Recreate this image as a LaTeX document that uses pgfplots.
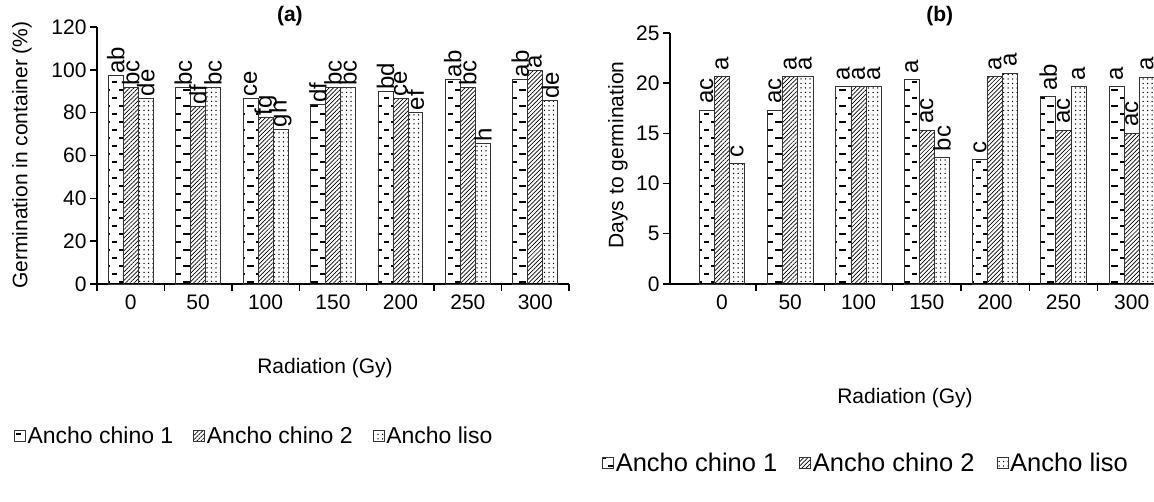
\documentclass[border=0pt]{standalone}
\usepackage{fontspec}
\setmainfont{Liberation Sans}
\usepackage{pgfplots}
\pgfplotsset{compat=1.18}
\usepackage{pgfplotstable}
\usetikzlibrary{patterns,patterns.meta}

\pgfdeclarepatternformonly{hdash}{\pgfqpoint{-1pt}{-1pt}}{\pgfqpoint{17pt}{17pt}}{\pgfqpoint{16pt}{16pt}}{%
  \pgfsetlinewidth{1.3pt}%
  \pgfpathmoveto{\pgfqpoint{0pt}{4pt}}\pgfpathlineto{\pgfqpoint{5pt}{4pt}}%
  \pgfpathmoveto{\pgfqpoint{7pt}{12pt}}\pgfpathlineto{\pgfqpoint{14pt}{12pt}}%
  \pgfusepath{stroke}}

\newcommand\ff{\fontsize{21}{25}\selectfont}
\newcommand\fl{\fontsize{23}{27}\selectfont}
\newcommand\flb{\fontsize{25.5}{29}\selectfont}
\newcommand\fb{\fontsize{24}{28}\selectfont}

% Panel (a): germination in container (%)
\pgfplotstableread{
x y lab
0 97.2 ab
1 91.7 bc
2 86.8 ce
3 83.8 df
4 89.9 bd
5 95.7 ab
6 95.7 ab
}\tAa
\pgfplotstableread{
x y lab
0 91.7 bc
1 82.9 df
2 78.0 fg
3 91.7 bc
4 86.8 ce
5 91.7 bc
6 99.8 a
}\tAb
\pgfplotstableread{
x y lab
0 86.8 de
1 91.7 bc
2 72.3 gh
3 91.7 bc
4 80.3 ef
5 65.5 h
6 85.5 de
}\tAc
% Panel (b): days to germination
\pgfplotstableread{
x y lab
0 17.3 ac
1 17.3 ac
2 19.68 a
3 20.37 a
4 12.4 c
5 18.65 ab
6 19.68 a
}\tBa
\pgfplotstableread{
x y lab
0 20.67 a
1 20.67 a
2 19.68 a
3 15.3 ac
4 20.67 a
5 15.3 ac
6 15.0 ac
}\tBb
\pgfplotstableread{
x y lab
0 12.0 c
1 20.67 a
2 19.68 a
3 12.6 bc
4 21.0 a
5 19.68 a
6 20.6 a
}\tBc

\pgfplotsset{
  myaxis/.style={
    scale only axis,
    ybar=0pt, bar width=0.222,
    xtick={0,...,6},
    xticklabels={0,50,100,150,200,250,300},
    major x tick style={draw=none},
    axis x line*=bottom, axis y line*=left,
    tick align=outside,
    major tick length=7pt, minor tick length=7pt,
    axis line style={line width=1.4pt, black},
    every tick/.append style={line width=1.4pt, black},
    tick label style={font=\ff},
    label style={font=\ff},
    /pgf/number format/assume math mode=true,
    clip=false,
    point meta=explicit symbolic,
    nodes near coords,
    nodes near coords style={rotate=90, anchor=west, font=\fb, inner sep=1.5pt, black},
    every axis plot/.append style={draw=black!80, line width=0.8pt},
    legend columns=3,
    legend style={draw=none, font=\fl, anchor=center, fill=none,
      /tikz/every even column/.append style={column sep=18pt}},
    legend image code/.code={\draw[#1, line width=0.6pt] (0pt,-5.5pt) rectangle (11pt,5.5pt);},
  }
}

\begin{document}
\begin{tikzpicture}[x=1pt,y=1pt]
\useasboundingbox (0,0) rectangle (1154,502);
\clip (0,0) rectangle (1154,502);

\begin{axis}[myaxis,
  at={(97pt,218pt)}, anchor=south west,
  width=472pt, height=257pt,
  xmin=-0.5, xmax=6.5,
  minor xtick={-0.5,0.5,...,6.5},
  ymin=0, ymax=120, ytick={0,20,...,120},
  ylabel={Germination in container (\%)},
  xlabel={Radiation (Gy)},
  xlabel style={at={(axis description cs:0.483,-0.327)}, anchor=center},
  ylabel style={at={(axis description cs:-0.159,0.502)}, anchor=center, rotate=0},
  legend style={at={(axis description cs:0.333,-0.591)}},
]
\addplot[pattern=hdash, draw=black!80] table[x=x,y=y,meta=lab] {\tAa};
\addplot[pattern={Lines[angle=45,distance=3pt,line width=0.7pt]}, draw=black!80] table[x=x,y=y,meta=lab] {\tAb};
\addplot[pattern={Dots[distance=4.5pt,radius=0.75pt]}, draw=black!80] table[x=x,y=y,meta=lab] {\tAc};
\legend{Ancho chino 1,Ancho chino 2,Ancho liso}
\node[font=\bfseries\ff] at (axis cs:2.36,125) {(a)};
\end{axis}

\begin{axis}[myaxis,
  at={(670pt,218pt)}, anchor=south west,
  width=500pt, height=251pt,
  xmin=-0.76, xmax=6.56,
  minor xtick={0.5,1.5,...,6.5},
  ymin=0, ymax=25, ytick={0,5,...,25},
  ylabel={Days to germination},
  xlabel={Radiation (Gy)},
  xlabel style={at={(axis description cs:0.47,-0.454)}, anchor=center},
  ylabel style={at={(axis description cs:-0.104,0.514)}, anchor=center, rotate=0},
  legend style={at={(axis description cs:0.392,-0.713)}, font=\flb,
    /tikz/every even column/.append style={column sep=20pt}},
  nodes near coords style={inner xsep=6pt},
]
\addplot[pattern=hdash, draw=black!80] table[x=x,y=y,meta=lab] {\tBa};
\addplot[pattern={Lines[angle=45,distance=3pt,line width=0.7pt]}, draw=black!80] table[x=x,y=y,meta=lab] {\tBb};
\addplot[pattern={Dots[distance=4.5pt,radius=0.75pt]}, draw=black!80] table[x=x,y=y,meta=lab] {\tBc};
\legend{Ancho chino 1,Ancho chino 2,Ancho liso}
\node[font=\bfseries\ff] at (axis cs:3.19,26.7) {(b)};
\end{axis}
\end{tikzpicture}
\end{document}
